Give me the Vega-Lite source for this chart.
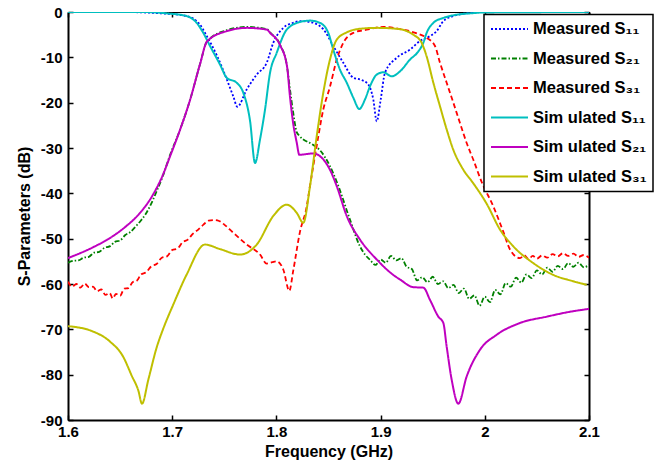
{
  "$schema": "https://vega.github.io/schema/vega-lite/v6.json",
  "autosize": "none",
  "width": 521,
  "height": 408,
  "padding": {"left": 68, "top": 12, "right": 68, "bottom": 45},
  "background": "white",
  "config": {
    "view": {"stroke": "black", "strokeWidth": 1},
    "font": "Liberation Sans",
    "axis": {
      "grid": false,
      "domainColor": "black",
      "tickColor": "black",
      "labelColor": "black",
      "titleColor": "black",
      "labelFont": "Liberation Sans",
      "titleFont": "Liberation Sans",
      "labelFontWeight": "bold",
      "titleFontWeight": "bold",
      "labelFontSize": 15,
      "titleFontSize": 16
    },
    "legend": {
      "orient": "none",
      "legendX": 416,
      "legendY": 2.5,
      "fillColor": "white",
      "strokeColor": "black",
      "strokeWidth": 1.5,
      "padding": 6,
      "symbolType": "stroke",
      "symbolSize": 1369,
      "symbolStrokeWidth": 2,
      "labelFont": "Liberation Sans",
      "labelFontSize": 16.5,
      "labelFontWeight": "bold",
      "labelColor": "black",
      "labelLimit": 300,
      "labelOffset": 4,
      "rowPadding": 12.5,
      "clipHeight": 17
    }
  },
  "data": {
    "values": [
      {"series": "Measured S₁₁", "freq": 1.6, "db": 0},
      {"series": "Measured S₁₁", "freq": 1.65, "db": 0},
      {"series": "Measured S₁₁", "freq": 1.69, "db": -0.3},
      {"series": "Measured S₁₁", "freq": 1.714, "db": -0.9},
      {"series": "Measured S₁₁", "freq": 1.7267, "db": -2.8},
      {"series": "Measured S₁₁", "freq": 1.7331, "db": -5.3},
      {"series": "Measured S₁₁", "freq": 1.7427, "db": -9.5},
      {"series": "Measured S₁₁", "freq": 1.7523, "db": -14.8},
      {"series": "Measured S₁₁", "freq": 1.7586, "db": -18.6},
      {"series": "Measured S₁₁", "freq": 1.7625, "db": -20.9},
      {"series": "Measured S₁₁", "freq": 1.7715, "db": -17.1},
      {"series": "Measured S₁₁", "freq": 1.7811, "db": -13.8},
      {"series": "Measured S₁₁", "freq": 1.7907, "db": -11.2},
      {"series": "Measured S₁₁", "freq": 1.797, "db": -6.8},
      {"series": "Measured S₁₁", "freq": 1.8066, "db": -3.5},
      {"series": "Measured S₁₁", "freq": 1.816, "db": -2.4},
      {"series": "Measured S₁₁", "freq": 1.8226, "db": -2.0},
      {"series": "Measured S₁₁", "freq": 1.8322, "db": -2.2},
      {"series": "Measured S₁₁", "freq": 1.845, "db": -3.8},
      {"series": "Measured S₁₁", "freq": 1.8546, "db": -7.5},
      {"series": "Measured S₁₁", "freq": 1.8642, "db": -11.2},
      {"series": "Measured S₁₁", "freq": 1.8738, "db": -14.5},
      {"series": "Measured S₁₁", "freq": 1.8819, "db": -15},
      {"series": "Measured S₁₁", "freq": 1.8882, "db": -16},
      {"series": "Measured S₁₁", "freq": 1.893, "db": -19.3},
      {"series": "Measured S₁₁", "freq": 1.8963, "db": -24.1},
      {"series": "Measured S₁₁", "freq": 1.9001, "db": -19.3},
      {"series": "Measured S₁₁", "freq": 1.9042, "db": -13.4},
      {"series": "Measured S₁₁", "freq": 1.9155, "db": -10.1},
      {"series": "Measured S₁₁", "freq": 1.9282, "db": -8.3},
      {"series": "Measured S₁₁", "freq": 1.9378, "db": -6.4},
      {"series": "Measured S₁₁", "freq": 1.9474, "db": -5.3},
      {"series": "Measured S₁₁", "freq": 1.9538, "db": -4.2},
      {"series": "Measured S₁₁", "freq": 1.9602, "db": -2},
      {"series": "Measured S₁₁", "freq": 1.9698, "db": -0.9},
      {"series": "Measured S₁₁", "freq": 1.9826, "db": -0.3},
      {"series": "Measured S₁₁", "freq": 2.0, "db": 0},
      {"series": "Measured S₁₁", "freq": 2.1, "db": 0},

      {"series": "Measured S₂₁", "freq": 1.600, "db": -55.3},
      {"series": "Measured S₂₁", "freq": 1.605, "db": -54.9},
      {"series": "Measured S₂₁", "freq": 1.610, "db": -54.8},
      {"series": "Measured S₂₁", "freq": 1.615, "db": -54.2},
      {"series": "Measured S₂₁", "freq": 1.620, "db": -54.0},
      {"series": "Measured S₂₁", "freq": 1.625, "db": -53.1},
      {"series": "Measured S₂₁", "freq": 1.630, "db": -52.9},
      {"series": "Measured S₂₁", "freq": 1.635, "db": -52.0},
      {"series": "Measured S₂₁", "freq": 1.640, "db": -51.7},
      {"series": "Measured S₂₁", "freq": 1.645, "db": -50.7},
      {"series": "Measured S₂₁", "freq": 1.650, "db": -50.4},
      {"series": "Measured S₂₁", "freq": 1.655, "db": -49.2},
      {"series": "Measured S₂₁", "freq": 1.660, "db": -48.5},
      {"series": "Measured S₂₁", "freq": 1.665, "db": -47.3},
      {"series": "Measured S₂₁", "freq": 1.670, "db": -46.0},
      {"series": "Measured S₂₁", "freq": 1.675, "db": -44.4},
      {"series": "Measured S₂₁", "freq": 1.680, "db": -42.2},
      {"series": "Measured S₂₁", "freq": 1.685, "db": -39.6},
      {"series": "Measured S₂₁", "freq": 1.691, "db": -36.2},
      {"series": "Measured S₂₁", "freq": 1.698, "db": -31.5},
      {"series": "Measured S₂₁", "freq": 1.7075, "db": -26},
      {"series": "Measured S₂₁", "freq": 1.717, "db": -19.5},
      {"series": "Measured S₂₁", "freq": 1.7267, "db": -11.5},
      {"series": "Measured S₂₁", "freq": 1.7334, "db": -6.5},
      {"series": "Measured S₂₁", "freq": 1.7526, "db": -4.0},
      {"series": "Measured S₂₁", "freq": 1.7718, "db": -3.3},
      {"series": "Measured S₂₁", "freq": 1.791, "db": -3.8},
      {"series": "Measured S₂₁", "freq": 1.7939, "db": -4.5},
      {"series": "Measured S₂₁", "freq": 1.8035, "db": -7.2},
      {"series": "Measured S₂₁", "freq": 1.8102, "db": -12},
      {"series": "Measured S₂₁", "freq": 1.813, "db": -17},
      {"series": "Measured S₂₁", "freq": 1.816, "db": -22},
      {"series": "Measured S₂₁", "freq": 1.8195, "db": -26.5},
      {"series": "Measured S₂₁", "freq": 1.822, "db": -27.3},
      {"series": "Measured S₂₁", "freq": 1.8351, "db": -29.3},
      {"series": "Measured S₂₁", "freq": 1.8418, "db": -30.5},
      {"series": "Measured S₂₁", "freq": 1.8514, "db": -34},
      {"series": "Measured S₂₁", "freq": 1.858, "db": -37.5},
      {"series": "Measured S₂₁", "freq": 1.8706, "db": -45.8},
      {"series": "Measured S₂₁", "freq": 1.8802, "db": -51.7},
      {"series": "Measured S₂₁", "freq": 1.885, "db": -53.5},
      {"series": "Measured S₂₁", "freq": 1.890, "db": -54.7},
      {"series": "Measured S₂₁", "freq": 1.895, "db": -55.8},
      {"series": "Measured S₂₁", "freq": 1.900, "db": -54.6},
      {"series": "Measured S₂₁", "freq": 1.905, "db": -55.3},
      {"series": "Measured S₂₁", "freq": 1.910, "db": -53.8},
      {"series": "Measured S₂₁", "freq": 1.915, "db": -54.8},
      {"series": "Measured S₂₁", "freq": 1.920, "db": -54.3},
      {"series": "Measured S₂₁", "freq": 1.925, "db": -56.2},
      {"series": "Measured S₂₁", "freq": 1.930, "db": -56.7},
      {"series": "Measured S₂₁", "freq": 1.935, "db": -59.2},
      {"series": "Measured S₂₁", "freq": 1.940, "db": -58.5},
      {"series": "Measured S₂₁", "freq": 1.945, "db": -59.6},
      {"series": "Measured S₂₁", "freq": 1.950, "db": -58.4},
      {"series": "Measured S₂₁", "freq": 1.955, "db": -60.0},
      {"series": "Measured S₂₁", "freq": 1.960, "db": -59.4},
      {"series": "Measured S₂₁", "freq": 1.965, "db": -60.9},
      {"series": "Measured S₂₁", "freq": 1.970, "db": -60.2},
      {"series": "Measured S₂₁", "freq": 1.975, "db": -62.0},
      {"series": "Measured S₂₁", "freq": 1.980, "db": -61.0},
      {"series": "Measured S₂₁", "freq": 1.985, "db": -63.3},
      {"series": "Measured S₂₁", "freq": 1.990, "db": -62.5},
      {"series": "Measured S₂₁", "freq": 1.995, "db": -64.8},
      {"series": "Measured S₂₁", "freq": 2.000, "db": -62.8},
      {"series": "Measured S₂₁", "freq": 2.005, "db": -64.0},
      {"series": "Measured S₂₁", "freq": 2.010, "db": -61.3},
      {"series": "Measured S₂₁", "freq": 2.015, "db": -62.3},
      {"series": "Measured S₂₁", "freq": 2.020, "db": -59.8},
      {"series": "Measured S₂₁", "freq": 2.025, "db": -60.6},
      {"series": "Measured S₂₁", "freq": 2.030, "db": -58.6},
      {"series": "Measured S₂₁", "freq": 2.035, "db": -59.7},
      {"series": "Measured S₂₁", "freq": 2.040, "db": -57.9},
      {"series": "Measured S₂₁", "freq": 2.045, "db": -58.7},
      {"series": "Measured S₂₁", "freq": 2.050, "db": -57.0},
      {"series": "Measured S₂₁", "freq": 2.055, "db": -57.9},
      {"series": "Measured S₂₁", "freq": 2.060, "db": -56.4},
      {"series": "Measured S₂₁", "freq": 2.065, "db": -57.3},
      {"series": "Measured S₂₁", "freq": 2.070, "db": -56.0},
      {"series": "Measured S₂₁", "freq": 2.075, "db": -56.7},
      {"series": "Measured S₂₁", "freq": 2.080, "db": -55.4},
      {"series": "Measured S₂₁", "freq": 2.085, "db": -56.2},
      {"series": "Measured S₂₁", "freq": 2.090, "db": -55.3},
      {"series": "Measured S₂₁", "freq": 2.095, "db": -56.3},
      {"series": "Measured S₂₁", "freq": 2.100, "db": -55.8},

      {"series": "Measured S₃₁", "freq": 1.600, "db": -59.5},
      {"series": "Measured S₃₁", "freq": 1.604, "db": -60.6},
      {"series": "Measured S₃₁", "freq": 1.608, "db": -60.0},
      {"series": "Measured S₃₁", "freq": 1.612, "db": -60.8},
      {"series": "Measured S₃₁", "freq": 1.616, "db": -59.9},
      {"series": "Measured S₃₁", "freq": 1.620, "db": -60.7},
      {"series": "Measured S₃₁", "freq": 1.624, "db": -60.6},
      {"series": "Measured S₃₁", "freq": 1.628, "db": -61.6},
      {"series": "Measured S₃₁", "freq": 1.632, "db": -61.2},
      {"series": "Measured S₃₁", "freq": 1.636, "db": -62.4},
      {"series": "Measured S₃₁", "freq": 1.640, "db": -62.0},
      {"series": "Measured S₃₁", "freq": 1.643, "db": -63.2},
      {"series": "Measured S₃₁", "freq": 1.646, "db": -62.2},
      {"series": "Measured S₃₁", "freq": 1.650, "db": -62.6},
      {"series": "Measured S₃₁", "freq": 1.654, "db": -61.0},
      {"series": "Measured S₃₁", "freq": 1.658, "db": -60.9},
      {"series": "Measured S₃₁", "freq": 1.662, "db": -59.6},
      {"series": "Measured S₃₁", "freq": 1.666, "db": -59.3},
      {"series": "Measured S₃₁", "freq": 1.670, "db": -57.9},
      {"series": "Measured S₃₁", "freq": 1.675, "db": -57.4},
      {"series": "Measured S₃₁", "freq": 1.680, "db": -56.1},
      {"series": "Measured S₃₁", "freq": 1.685, "db": -55.6},
      {"series": "Measured S₃₁", "freq": 1.690, "db": -54.2},
      {"series": "Measured S₃₁", "freq": 1.695, "db": -53.9},
      {"series": "Measured S₃₁", "freq": 1.700, "db": -52.5},
      {"series": "Measured S₃₁", "freq": 1.705, "db": -52.2},
      {"series": "Measured S₃₁", "freq": 1.710, "db": -50.8},
      {"series": "Measured S₃₁", "freq": 1.715, "db": -50.2},
      {"series": "Measured S₃₁", "freq": 1.720, "db": -48.9},
      {"series": "Measured S₃₁", "freq": 1.725, "db": -48.0},
      {"series": "Measured S₃₁", "freq": 1.730, "db": -46.9},
      {"series": "Measured S₃₁", "freq": 1.735, "db": -46.0},
      {"series": "Measured S₃₁", "freq": 1.740, "db": -45.9},
      {"series": "Measured S₃₁", "freq": 1.745, "db": -46.1},
      {"series": "Measured S₃₁", "freq": 1.750, "db": -46.9},
      {"series": "Measured S₃₁", "freq": 1.7586, "db": -48.7},
      {"series": "Measured S₃₁", "freq": 1.7715, "db": -51.3},
      {"series": "Measured S₃₁", "freq": 1.7843, "db": -53.5},
      {"series": "Measured S₃₁", "freq": 1.7907, "db": -55.5},
      {"series": "Measured S₃₁", "freq": 1.796, "db": -55.2},
      {"series": "Measured S₃₁", "freq": 1.8003, "db": -55},
      {"series": "Measured S₃₁", "freq": 1.8066, "db": -56.8},
      {"series": "Measured S₃₁", "freq": 1.8124, "db": -61.5},
      {"series": "Measured S₃₁", "freq": 1.8162, "db": -57},
      {"series": "Measured S₃₁", "freq": 1.8226, "db": -48.5},
      {"series": "Measured S₃₁", "freq": 1.8291, "db": -42.9},
      {"series": "Measured S₃₁", "freq": 1.8322, "db": -38.4},
      {"series": "Measured S₃₁", "freq": 1.8387, "db": -29.5},
      {"series": "Measured S₃₁", "freq": 1.845, "db": -21.5},
      {"series": "Measured S₃₁", "freq": 1.8514, "db": -16.5},
      {"series": "Measured S₃₁", "freq": 1.8579, "db": -10.5},
      {"series": "Measured S₃₁", "freq": 1.8642, "db": -6.8},
      {"series": "Measured S₃₁", "freq": 1.8738, "db": -4.6},
      {"series": "Measured S₃₁", "freq": 1.8867, "db": -3.9},
      {"series": "Measured S₃₁", "freq": 1.9026, "db": -3.3},
      {"series": "Measured S₃₁", "freq": 1.9218, "db": -3.9},
      {"series": "Measured S₃₁", "freq": 1.9347, "db": -4.7},
      {"series": "Measured S₃₁", "freq": 1.9442, "db": -5.7},
      {"series": "Measured S₃₁", "freq": 1.9522, "db": -7.5},
      {"series": "Measured S₃₁", "freq": 1.957, "db": -11.2},
      {"series": "Measured S₃₁", "freq": 1.9634, "db": -15.6},
      {"series": "Measured S₃₁", "freq": 1.9698, "db": -20},
      {"series": "Measured S₃₁", "freq": 1.9762, "db": -24.5},
      {"series": "Measured S₃₁", "freq": 1.9826, "db": -28.9},
      {"series": "Measured S₃₁", "freq": 1.989, "db": -32.6},
      {"series": "Measured S₃₁", "freq": 1.997, "db": -37.5},
      {"series": "Measured S₃₁", "freq": 2.0082, "db": -42.9},
      {"series": "Measured S₃₁", "freq": 2.0178, "db": -48.5},
      {"series": "Measured S₃₁", "freq": 2.0242, "db": -52.4},
      {"series": "Measured S₃₁", "freq": 2.0338, "db": -54.3},
      {"series": "Measured S₃₁", "freq": 2.038, "db": -53.7},
      {"series": "Measured S₃₁", "freq": 2.042, "db": -54.5},
      {"series": "Measured S₃₁", "freq": 2.046, "db": -53.8},
      {"series": "Measured S₃₁", "freq": 2.050, "db": -54.4},
      {"series": "Measured S₃₁", "freq": 2.055, "db": -53.7},
      {"series": "Measured S₃₁", "freq": 2.060, "db": -54.2},
      {"series": "Measured S₃₁", "freq": 2.065, "db": -53.4},
      {"series": "Measured S₃₁", "freq": 2.070, "db": -53.9},
      {"series": "Measured S₃₁", "freq": 2.075, "db": -53.2},
      {"series": "Measured S₃₁", "freq": 2.080, "db": -53.8},
      {"series": "Measured S₃₁", "freq": 2.085, "db": -53.3},
      {"series": "Measured S₃₁", "freq": 2.090, "db": -54.0},
      {"series": "Measured S₃₁", "freq": 2.095, "db": -53.6},
      {"series": "Measured S₃₁", "freq": 2.100, "db": -54.2},

      {"series": "Sim ulated S₁₁", "freq": 1.6, "db": 0},
      {"series": "Sim ulated S₁₁", "freq": 1.67, "db": 0},
      {"series": "Sim ulated S₁₁", "freq": 1.6947, "db": -0.3},
      {"series": "Sim ulated S₁₁", "freq": 1.7139, "db": -0.9},
      {"series": "Sim ulated S₁₁", "freq": 1.7235, "db": -2.4},
      {"series": "Sim ulated S₁₁", "freq": 1.7298, "db": -4.6},
      {"series": "Sim ulated S₁₁", "freq": 1.7363, "db": -7.5},
      {"series": "Sim ulated S₁₁", "freq": 1.7459, "db": -11.6},
      {"series": "Sim ulated S₁₁", "freq": 1.7523, "db": -14.5},
      {"series": "Sim ulated S₁₁", "freq": 1.7619, "db": -15.6},
      {"series": "Sim ulated S₁₁", "freq": 1.7682, "db": -17.8},
      {"series": "Sim ulated S₁₁", "freq": 1.7747, "db": -24},
      {"series": "Sim ulated S₁₁", "freq": 1.7795, "db": -33.3},
      {"series": "Sim ulated S₁₁", "freq": 1.7843, "db": -28.1},
      {"series": "Sim ulated S₁₁", "freq": 1.7891, "db": -21.5},
      {"series": "Sim ulated S₁₁", "freq": 1.7939, "db": -13.4},
      {"series": "Sim ulated S₁₁", "freq": 1.8003, "db": -9},
      {"series": "Sim ulated S₁₁", "freq": 1.8099, "db": -3.9},
      {"series": "Sim ulated S₁₁", "freq": 1.8226, "db": -2.2},
      {"series": "Sim ulated S₁₁", "freq": 1.8322, "db": -1.9},
      {"series": "Sim ulated S₁₁", "freq": 1.8418, "db": -2.4},
      {"series": "Sim ulated S₁₁", "freq": 1.8498, "db": -4.6},
      {"series": "Sim ulated S₁₁", "freq": 1.8546, "db": -8.3},
      {"series": "Sim ulated S₁₁", "freq": 1.861, "db": -12.7},
      {"series": "Sim ulated S₁₁", "freq": 1.8675, "db": -15.6},
      {"series": "Sim ulated S₁₁", "freq": 1.8738, "db": -18.9},
      {"series": "Sim ulated S₁₁", "freq": 1.8796, "db": -21.4},
      {"series": "Sim ulated S₁₁", "freq": 1.885, "db": -19.3},
      {"series": "Sim ulated S₁₁", "freq": 1.8898, "db": -16.4},
      {"series": "Sim ulated S₁₁", "freq": 1.8963, "db": -13.8},
      {"series": "Sim ulated S₁₁", "freq": 1.9026, "db": -13.3},
      {"series": "Sim ulated S₁₁", "freq": 1.9107, "db": -14.2},
      {"series": "Sim ulated S₁₁", "freq": 1.9186, "db": -13.1},
      {"series": "Sim ulated S₁₁", "freq": 1.9282, "db": -10.5},
      {"series": "Sim ulated S₁₁", "freq": 1.9362, "db": -8.7},
      {"series": "Sim ulated S₁₁", "freq": 1.941, "db": -6.8},
      {"series": "Sim ulated S₁₁", "freq": 1.9442, "db": -4.6},
      {"series": "Sim ulated S₁₁", "freq": 1.9506, "db": -2.4},
      {"series": "Sim ulated S₁₁", "freq": 1.9602, "db": -1.3},
      {"series": "Sim ulated S₁₁", "freq": 1.973, "db": -0.6},
      {"series": "Sim ulated S₁₁", "freq": 1.9858, "db": -0.3},
      {"series": "Sim ulated S₁₁", "freq": 2.0, "db": -0.1},
      {"series": "Sim ulated S₁₁", "freq": 2.1, "db": 0},

      {"series": "Sim ulated S₂₁", "freq": 1.6, "db": -54.3},
      {"series": "Sim ulated S₂₁", "freq": 1.624, "db": -51.9},
      {"series": "Sim ulated S₂₁", "freq": 1.64, "db": -49.9},
      {"series": "Sim ulated S₂₁", "freq": 1.655, "db": -47.4},
      {"series": "Sim ulated S₂₁", "freq": 1.668, "db": -44.6},
      {"series": "Sim ulated S₂₁", "freq": 1.68, "db": -40.9},
      {"series": "Sim ulated S₂₁", "freq": 1.69, "db": -36.5},
      {"series": "Sim ulated S₂₁", "freq": 1.698, "db": -31.8},
      {"series": "Sim ulated S₂₁", "freq": 1.7075, "db": -26},
      {"series": "Sim ulated S₂₁", "freq": 1.717, "db": -19.5},
      {"series": "Sim ulated S₂₁", "freq": 1.7267, "db": -11.5},
      {"series": "Sim ulated S₂₁", "freq": 1.7334, "db": -6.5},
      {"series": "Sim ulated S₂₁", "freq": 1.7526, "db": -4.2},
      {"series": "Sim ulated S₂₁", "freq": 1.7718, "db": -3.5},
      {"series": "Sim ulated S₂₁", "freq": 1.791, "db": -3.9},
      {"series": "Sim ulated S₂₁", "freq": 1.7939, "db": -4.6},
      {"series": "Sim ulated S₂₁", "freq": 1.8035, "db": -7.3},
      {"series": "Sim ulated S₂₁", "freq": 1.8102, "db": -12},
      {"series": "Sim ulated S₂₁", "freq": 1.813, "db": -18.6},
      {"series": "Sim ulated S₂₁", "freq": 1.816, "db": -24.4},
      {"series": "Sim ulated S₂₁", "freq": 1.8195, "db": -28.8},
      {"series": "Sim ulated S₂₁", "freq": 1.822, "db": -31.5},
      {"series": "Sim ulated S₂₁", "freq": 1.8351, "db": -31.2},
      {"series": "Sim ulated S₂₁", "freq": 1.8418, "db": -31.8},
      {"series": "Sim ulated S₂₁", "freq": 1.8514, "db": -34.8},
      {"series": "Sim ulated S₂₁", "freq": 1.8579, "db": -38.4},
      {"series": "Sim ulated S₂₁", "freq": 1.8675, "db": -45},
      {"series": "Sim ulated S₂₁", "freq": 1.8802, "db": -50.2},
      {"series": "Sim ulated S₂₁", "freq": 1.8963, "db": -54.6},
      {"series": "Sim ulated S₂₁", "freq": 1.9122, "db": -58},
      {"series": "Sim ulated S₂₁", "freq": 1.9186, "db": -59},
      {"series": "Sim ulated S₂₁", "freq": 1.9314, "db": -60.7},
      {"series": "Sim ulated S₂₁", "freq": 1.941, "db": -60.8},
      {"series": "Sim ulated S₂₁", "freq": 1.9474, "db": -63.5},
      {"series": "Sim ulated S₂₁", "freq": 1.9554, "db": -67.2},
      {"series": "Sim ulated S₂₁", "freq": 1.9602, "db": -68.6},
      {"series": "Sim ulated S₂₁", "freq": 1.9634, "db": -73.8},
      {"series": "Sim ulated S₂₁", "freq": 1.9682, "db": -81.1},
      {"series": "Sim ulated S₂₁", "freq": 1.9746, "db": -86.4},
      {"series": "Sim ulated S₂₁", "freq": 1.9826, "db": -80.4},
      {"series": "Sim ulated S₂₁", "freq": 1.9954, "db": -74.5},
      {"series": "Sim ulated S₂₁", "freq": 2.0114, "db": -71.2},
      {"series": "Sim ulated S₂₁", "freq": 2.0338, "db": -68.6},
      {"series": "Sim ulated S₂₁", "freq": 2.0594, "db": -67.2},
      {"series": "Sim ulated S₂₁", "freq": 2.0849, "db": -66},
      {"series": "Sim ulated S₂₁", "freq": 2.1, "db": -65.5},

      {"series": "Sim ulated S₃₁", "freq": 1.6, "db": -69.3},
      {"series": "Sim ulated S₃₁", "freq": 1.6243, "db": -70.5},
      {"series": "Sim ulated S₃₁", "freq": 1.6403, "db": -72.7},
      {"series": "Sim ulated S₃₁", "freq": 1.6531, "db": -76.1},
      {"series": "Sim ulated S₃₁", "freq": 1.6611, "db": -80.2},
      {"series": "Sim ulated S₃₁", "freq": 1.6675, "db": -83.5},
      {"series": "Sim ulated S₃₁", "freq": 1.671, "db": -86.4},
      {"series": "Sim ulated S₃₁", "freq": 1.6771, "db": -81.1},
      {"series": "Sim ulated S₃₁", "freq": 1.6851, "db": -74},
      {"series": "Sim ulated S₃₁", "freq": 1.6915, "db": -69.8},
      {"series": "Sim ulated S₃₁", "freq": 1.7011, "db": -64.5},
      {"series": "Sim ulated S₃₁", "freq": 1.7139, "db": -57.9},
      {"series": "Sim ulated S₃₁", "freq": 1.7315, "db": -51.3},
      {"series": "Sim ulated S₃₁", "freq": 1.7459, "db": -52.3},
      {"series": "Sim ulated S₃₁", "freq": 1.7651, "db": -53.5},
      {"series": "Sim ulated S₃₁", "freq": 1.7811, "db": -51.3},
      {"series": "Sim ulated S₃₁", "freq": 1.797, "db": -45},
      {"series": "Sim ulated S₃₁", "freq": 1.8099, "db": -42.5},
      {"series": "Sim ulated S₃₁", "freq": 1.8195, "db": -44.3},
      {"series": "Sim ulated S₃₁", "freq": 1.8258, "db": -46.5},
      {"series": "Sim ulated S₃₁", "freq": 1.8322, "db": -38.5},
      {"series": "Sim ulated S₃₁", "freq": 1.8387, "db": -27.4},
      {"series": "Sim ulated S₃₁", "freq": 1.845, "db": -17.8},
      {"series": "Sim ulated S₃₁", "freq": 1.8514, "db": -10.5},
      {"series": "Sim ulated S₃₁", "freq": 1.8579, "db": -6.1},
      {"series": "Sim ulated S₃₁", "freq": 1.8675, "db": -4.5},
      {"series": "Sim ulated S₃₁", "freq": 1.8802, "db": -3.7},
      {"series": "Sim ulated S₃₁", "freq": 1.8963, "db": -3.5},
      {"series": "Sim ulated S₃₁", "freq": 1.9155, "db": -3.7},
      {"series": "Sim ulated S₃₁", "freq": 1.9314, "db": -5},
      {"series": "Sim ulated S₃₁", "freq": 1.9394, "db": -6.8},
      {"series": "Sim ulated S₃₁", "freq": 1.9442, "db": -9.8},
      {"series": "Sim ulated S₃₁", "freq": 1.9506, "db": -15.6},
      {"series": "Sim ulated S₃₁", "freq": 1.957, "db": -20.8},
      {"series": "Sim ulated S₃₁", "freq": 1.9634, "db": -25.9},
      {"series": "Sim ulated S₃₁", "freq": 1.9698, "db": -30.4},
      {"series": "Sim ulated S₃₁", "freq": 1.9794, "db": -34.8},
      {"series": "Sim ulated S₃₁", "freq": 1.989, "db": -37.8},
      {"series": "Sim ulated S₃₁", "freq": 2.0018, "db": -42.3},
      {"series": "Sim ulated S₃₁", "freq": 2.0146, "db": -48},
      {"series": "Sim ulated S₃₁", "freq": 2.0274, "db": -51.7},
      {"series": "Sim ulated S₃₁", "freq": 2.0466, "db": -55.4},
      {"series": "Sim ulated S₃₁", "freq": 2.0658, "db": -58},
      {"series": "Sim ulated S₃₁", "freq": 2.0849, "db": -59.4},
      {"series": "Sim ulated S₃₁", "freq": 2.0978, "db": -60.2}
    ]
  },
  "layer": [
    {
      "transform": [{"filter": "indexof(datum.series, 'Measured') >= 0"}],
      "mark": {"type": "line", "strokeWidth": 1.8, "clip": true, "interpolate": "monotone"},
      "encoding": {
        "x": {
          "field": "freq", "type": "quantitative",
          "scale": {"domain": [1.6, 2.1], "nice": false, "zero": false},
          "axis": {
            "orient": "bottom", "title": "Frequency (GHz)",
            "values": [1.6, 1.7, 1.8, 1.9, 2.0, 2.1], "format": "~g",
            "tickSize": -5, "labelPadding": 9, "domainWidth": 2, "tickWidth": 1.5,
            "titlePadding": 4, "labelFlush": false
          }
        },
        "y": {
          "field": "db", "type": "quantitative",
          "scale": {"domain": [-90, 0], "nice": false, "zero": false},
          "axis": {
            "orient": "left", "title": "S-Parameters (dB)",
            "values": [-90, -80, -70, -60, -50, -40, -30, -20, -10, 0],
            "labelExpr": "datum.value < 0 ? '-' + abs(datum.value) : '0'",
            "tickSize": -5, "labelPadding": 11, "domainWidth": 2, "tickWidth": 1.5,
            "titlePadding": 8, "labelFlush": false
          }
        },
        "color": {
          "field": "series", "type": "nominal", "title": null,
          "scale": {
            "domain": ["Measured S₁₁", "Measured S₂₁", "Measured S₃₁", "Sim ulated S₁₁", "Sim ulated S₂₁", "Sim ulated S₃₁"],
            "range": ["#0000ff", "#008000", "#ff0000", "#00bfbf", "#bf00bf", "#bfbf00"]
          }
        },
        "strokeDash": {
          "field": "series", "type": "nominal", "title": null,
          "scale": {
            "domain": ["Measured S₁₁", "Measured S₂₁", "Measured S₃₁", "Sim ulated S₁₁", "Sim ulated S₂₁", "Sim ulated S₃₁"],
            "range": [[2, 2], [5, 2, 1.5, 2], [5, 3], [1, 0], [1, 0], [1, 0]]
          }
        }
      }
    },
    {
      "transform": [{"filter": "indexof(datum.series, 'Sim') >= 0"}],
      "mark": {"type": "line", "strokeWidth": 2, "clip": true, "interpolate": "monotone"},
      "encoding": {
        "x": {
          "field": "freq", "type": "quantitative",
          "axis": {
            "orient": "top", "title": null, "labels": false,
            "values": [1.6, 1.7, 1.8, 1.9, 2.0, 2.1],
            "tickSize": -5, "domainWidth": 1, "tickWidth": 1.5
          }
        },
        "y": {
          "field": "db", "type": "quantitative",
          "axis": {
            "orient": "right", "title": null, "labels": false,
            "values": [-90, -80, -70, -60, -50, -40, -30, -20, -10, 0],
            "tickSize": -5, "domainWidth": 2, "tickWidth": 1.5
          }
        },
        "color": {"field": "series", "type": "nominal", "title": null},
        "strokeDash": {"field": "series", "type": "nominal", "title": null}
      }
    }
  ],
  "resolve": {"axis": {"x": "independent", "y": "independent"}}
}
